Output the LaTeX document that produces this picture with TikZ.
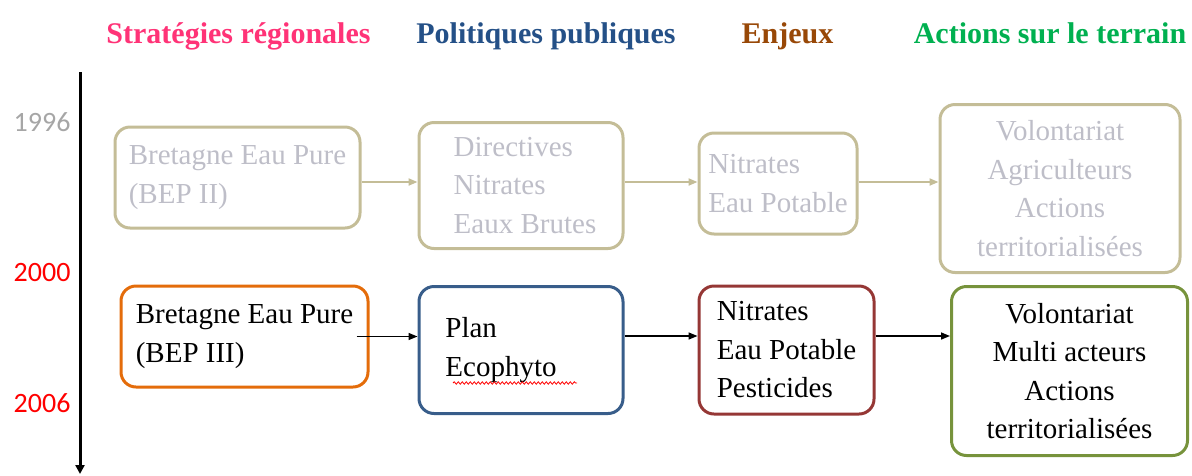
\documentclass[tikz,border=0pt]{standalone}
\usepackage{fontspec}
\setmainfont{Liberation Serif}
\newfontfamily\yearfont{Carlito}
\usetikzlibrary{arrows.meta,decorations.pathmorphing}
\definecolor{hpink}{RGB}{255,51,119}
\definecolor{hblue}{RGB}{36,80,135}
\definecolor{hbrown}{RGB}{152,72,7}
\definecolor{hgreen}{RGB}{0,176,80}
\definecolor{tanc}{RGB}{196,189,151}
\definecolor{oldtext}{RGB}{190,190,200}
\definecolor{oldyear}{RGB}{166,166,166}
\definecolor{borange}{RGB}{228,108,10}
\definecolor{bblue}{RGB}{56,93,138}
\definecolor{bred}{RGB}{149,55,53}
\definecolor{bgreen}{RGB}{119,147,60}
\begin{document}
\begin{tikzpicture}[x=1pt,y=-1pt,
  header/.style={font=\fontsize{30}{36}\selectfont\bfseries, anchor=base},
  year/.style={font=\yearfont\fontsize{28}{32}\selectfont, anchor=east},
  box/.style={draw, rounded corners=15pt, line width=3pt, inner sep=0pt,
    font=\fontsize{29}{38.5}\selectfont},
  oldbox/.style={box, draw=tanc, text=oldtext},
  newbox/.style={box, text=black},
  oldarr/.style={draw=tanc, line width=2pt, -{Triangle[length=9pt,width=7pt]}},
  newarr/.style={draw=black, line width=1.5pt, -{Triangle[length=9pt,width=7pt]}},
  timeline/.style={line width=3pt, -{Triangle[length=9pt,width=9pt]}}
]
\useasboundingbox (0,0) rectangle (1192,475);

% headers
\node[header, text=hpink]  (h1) at (238.5,43) {Stratégies régionales};
\node[header, text=hblue]  (h2) at (546,43) {Politiques publiques};
\node[header, text=hbrown] (h3) at (787.5,43) {Enjeux};
\node[header, text=hgreen] (h4) at (1050,43) {Actions sur le terrain};

% timeline
\coordinate (tTop) at (80,72);
\coordinate (tBot) at (80,474);
\draw[timeline] (tTop) -- (tBot);
\node[year, text=oldyear] (y1996) at (74,122) {1996};
\node[year, text=red] (y2000) at (74,273) {2000};
\node[year, text=red] (y2006) at (74,403) {2006};

% row 1996
\node[oldbox, minimum width=245, minimum height=101, align=left] (B1) at (237.5,177.5)
  {Bretagne Eau Pure\\(BEP II)};
\node[oldbox, minimum width=204, minimum height=126, align=left] (B2) at (521,185.5)
  {\hspace*{8pt}Directives\\\hspace*{8pt}Nitrates\\\hspace*{8pt}Eaux Brutes};
\node[oldbox, minimum width=158, minimum height=101, align=left] (B3) at (778,183.5)
  {Nitrates\\Eau Potable};
\node[oldbox, minimum width=240, minimum height=168, align=center] (B4) at (1060,188.5)
  {Volontariat\\Agriculteurs\\Actions\\territorialisées};

\coordinate (a1) at ([yshift=-4.5pt]B1.east);
\draw[oldarr] (a1) -- (a1 -| B2.west);
\coordinate (a2) at ([yshift=3.5pt]B2.east);
\draw[oldarr] (a2) -- (a2 -| B3.west);
\coordinate (a3) at ([yshift=1.5pt]B3.east);
\draw[oldarr] (a3) -- (a3 -| B4.west);

% row 2000-2006
\node[newbox, draw=borange, minimum width=247, minimum height=101, align=left] (C1) at (244.5,336.5)
  {Bretagne Eau Pure\\(BEP III)};
\node[newbox, draw=bblue, minimum width=204, minimum height=127, align=left] (C2) at (521,350)
  {Plan\\Ecophyto\hspace*{40pt}};
\node[newbox, draw=bred, minimum width=175, minimum height=128, align=left] (C3) at (786.5,350)
  {Nitrates\\Eau Potable\\Pesticides};
\node[newbox, draw=bgreen, minimum width=236, minimum height=169, align=center] (C4) at (1069.5,371)
  {Volontariat\\Multi acteurs\\Actions\\territorialisées};

\coordinate (c1) at ([xshift=-13pt]C1.east);
\draw[newarr] (c1) -- (c1 -| C2.west);
\coordinate (c2) at ([yshift=14pt]C2.east);
\draw[newarr] (c2) -- (c2 -| C3.west);
\coordinate (c3) at ([yshift=14pt]C3.east);
\draw[newarr] (c3) -- (c3 -| C4.west);

% spell-check underline under Ecophyto
\draw[red, line width=0.8pt, decorate, decoration={snake, amplitude=1.2pt, segment length=4pt}]
  (453,383) -- (577,383);
\end{tikzpicture}
\end{document}
